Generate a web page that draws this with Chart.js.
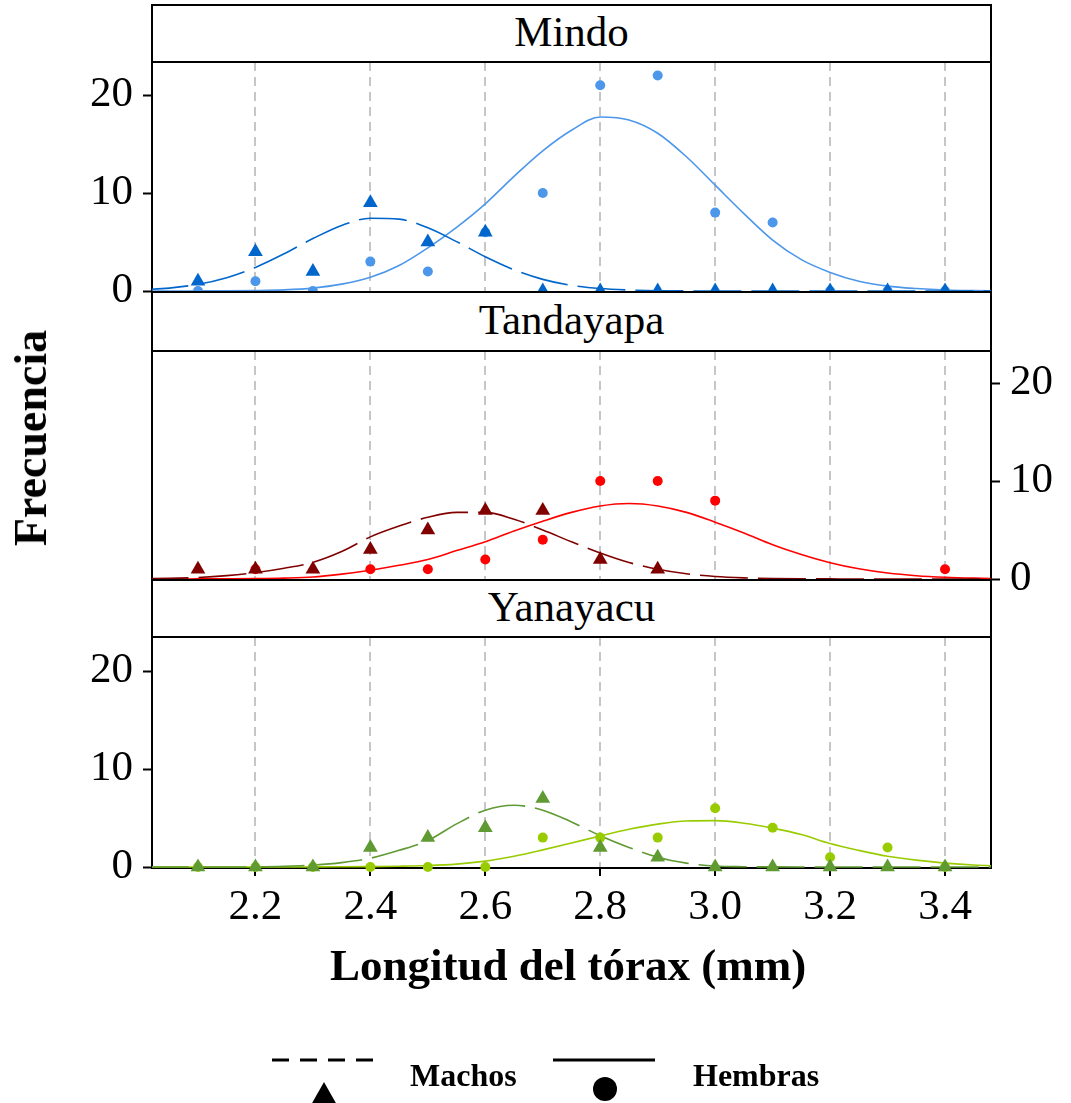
<!DOCTYPE html>
<html>
<head>
<meta charset="utf-8">
<script src="https://cdn.jsdelivr.net/npm/chart.js@4"></script>
<style>
  body { margin: 0; background: #fff; width: 1071px; height: 1103px; position: relative; overflow: hidden;
         font-family: "Liberation Serif", "Times New Roman", serif; color: #000; }
  canvas { position: absolute; left: 0; top: 0; }
  .strip { position: absolute; left: 151px; width: 841px; box-sizing: border-box; border: 2px solid #000;
           background: #fff; text-align: center; font-size: 43px; }
  .lbl { position: absolute; white-space: nowrap; font-weight: bold; }
</style>
</head>
<body>
<canvas id="mindo" width="1071" height="1103"></canvas>
<canvas id="tanda" width="1071" height="1103"></canvas>
<canvas id="yana" width="1071" height="1103"></canvas>

<div class="strip" style="top:4px;height:59px;line-height:52px">Mindo</div>
<div class="strip" style="top:291px;height:61px;line-height:54px">Tandayapa</div>
<div class="strip" style="top:579px;height:59px;line-height:52px">Yanayacu</div>

<div class="lbl" style="left:68px;width:1000px;text-align:center;top:940px;font-size:45px;line-height:50px">Longitud del tórax (mm)</div>
<div class="lbl" style="left:31px;top:438px;font-size:46px;line-height:46px;transform:translate(-50%,-50%) rotate(-90deg)">Frecuencia</div>

<svg style="position:absolute;left:0;top:1030px" width="1071" height="73">
  <line x1="272" y1="30" x2="373" y2="30" stroke="#000" stroke-width="3" stroke-dasharray="17 11"/>
  <polygon points="324,52 311,75 337,75" fill="#000"/>
  <line x1="553" y1="30" x2="655" y2="30" stroke="#000" stroke-width="3"/>
  <circle cx="605" cy="59" r="12" fill="#000"/>
</svg>
<div class="lbl" style="left:410px;top:1059px;font-size:32px;line-height:32px">Machos</div>
<div class="lbl" style="left:693px;top:1059px;font-size:32px;line-height:32px">Hembras</div>

<script>
// observed counts per thorax length class
const xPts = [2.1, 2.2, 2.3, 2.4, 2.5, 2.6, 2.7, 2.8, 2.9, 3.0, 3.1, 3.2, 3.3, 3.4];
const mindoMachos  = [1, 4, 2, 9, 5, 6, 0, 0, 0, 0, 0, 0, 0, 0];
const mindoHembras = [0, 1, 0, 3, 2, 6, 10, 21, 22, 8, 7, 0, 0, 0];
const tandaMachos  = [1, 1, 1, 3, 5, 7, 7, 2, 1, null, null, null, null, null];
const tandaHembras = [null, 1, null, 1, 1, 2, 4, 10, 10, 8, null, null, null, 1];
const yanaMachos   = [0, 0, 0, 2, 3, 4, 7, 2, 1, 0, 0, 0, 0, 0];
const yanaHembras  = [0, 0, 0, 0, 0, 0, 3, 3, 3, 6, 4, 1, 2, 0];

// fitted curves, every 0.05 mm
const xFit = [2.00, 2.05, 2.10, 2.15, 2.20, 2.25, 2.30, 2.35, 2.40, 2.45, 2.50, 2.55, 2.60, 2.65, 2.70, 2.75,
              2.80, 2.85, 2.90, 2.95, 3.00, 3.05, 3.10, 3.15, 3.20, 3.25, 3.30, 3.35, 3.40, 3.45, 3.50];
const mindoMachosFit  = [0.12, 0.3, 0.68, 1.36, 2.41, 3.8, 5.35, 6.69, 7.43, 7.34, 6.45, 5.04, 3.5, 2.17, 1.19, 0.58,
                         0.25, 0.1, 0.03, 0.01, 0, 0, 0, 0, 0, 0, 0, 0, 0, 0, 0];
const mindoHembrasFit = [0, 0, 0.01, 0.02, 0.05, 0.12, 0.3, 0.7, 1.4, 2.6, 4.4, 6.5, 8.9, 11.7, 14.3, 16.4,
                         17.75, 17.45, 16.1, 13.7, 10.8, 7.9, 5.2, 3.2, 1.9, 1.0, 0.5, 0.25, 0.1, 0.04, 0.01];
const tandaMachosFit  = [0.03, 0.07, 0.16, 0.35, 0.65, 1.1, 1.7, 2.8, 4.3, 5.4, 6.3, 6.8, 6.8, 6.1, 5.0, 3.8,
                         2.66, 1.69, 0.99, 0.53, 0.26, 0.12, 0.05, 0.02, 0.01, 0, 0, 0, 0, 0, 0];
const tandaHembrasFit = [0, 0, 0.01, 0.02, 0.04, 0.09, 0.2, 0.5, 0.9, 1.4, 2.0, 2.9, 3.8, 4.9, 5.9, 6.8,
                         7.45, 7.7, 7.45, 6.8, 5.8, 4.7, 3.5, 2.5, 1.66, 1.04, 0.61, 0.34, 0.18, 0.09, 0.04];
const yanaMachosFit   = [0, 0, 0, 0, 0.02, 0.08, 0.2, 0.45, 0.9, 1.7, 2.7, 4.4, 5.8, 6.3, 5.8, 4.6,
                         3.2, 2.0, 1.0, 0.4, 0.1, 0.03, 0.01, 0, 0, 0, 0, 0, 0, 0, 0];
const yanaHembrasFit  = [0, 0, 0, 0, 0, 0, 0.01, 0.02, 0.04, 0.08, 0.15, 0.3, 0.6, 1.1, 1.75, 2.45,
                         3.17, 3.85, 4.38, 4.7, 4.73, 4.47, 3.97, 3.31, 2.4, 1.7, 1.1, 0.7, 0.4, 0.2, 0.1];

const xTicks = [2.2, 2.4, 2.6, 2.8, 3.0, 3.2, 3.4];
const yTicks = [0, 10, 20];

const SERIF = '"Liberation Serif", "Times New Roman", serif';
const X_AXIS_H = 80;

function toXY(xs, ys) {
    return xs.map((x, i) => ({ x, y: ys[i] })).filter(p => p.y !== null);
}

// black box round each plot area
const framePlugin = {
    id: 'frame',
    beforeDatasetsDraw(chart) {
        const { ctx, chartArea: a } = chart;
        ctx.save();
        ctx.strokeStyle = '#000';
        ctx.lineWidth = 2;
        ctx.strokeRect(a.left, a.top, a.right - a.left, a.bottom - a.top);
        ctx.restore();
    }
};

function makePanel(id, o) {
    const axisH = o.xLabels ? X_AXIS_H : 0;
    return new Chart(document.getElementById(id), {
        type: 'scatter',
        data: {
            datasets: [
                { data: toXY(xPts, o.machos), pointStyle: 'triangle', pointRadius: 8.5, borderWidth: 0,
                  backgroundColor: o.cM, clip: false, order: 1 },
                { data: toXY(xPts, o.hembras), pointStyle: 'circle', pointRadius: 5, borderWidth: 0,
                  backgroundColor: o.cH, clip: false, order: 2 },
                { data: toXY(xFit, o.machosFit), showLine: true, pointRadius: 0, borderColor: o.cM,
                  borderWidth: 1.6, borderDash: [48, 10], cubicInterpolationMode: 'monotone', order: 3 },
                { data: toXY(xFit, o.hembrasFit), showLine: true, pointRadius: 0, borderColor: o.cH,
                  borderWidth: 1.6, cubicInterpolationMode: 'monotone', order: 4 }
            ]
        },
        options: {
            responsive: false,
            animation: false,
            events: [],
            layout: {
                padding: { top: o.top, bottom: 1103 - o.bottom - axisH,
                           left: o.yRight ? 152 : 0, right: o.yRight ? 0 : 80 }
            },
            plugins: { legend: { display: false }, tooltip: { enabled: false } },
            scales: {
                x: {
                    type: 'linear', min: 2.02, max: 3.48,
                    afterBuildTicks: s => { s.ticks = xTicks.map(v => ({ value: v })); },
                    afterFit: s => { s.height = axisH; },
                    grid: { color: '#c6c6c6', lineWidth: 2, drawTicks: o.xLabels, tickLength: 8,
                            tickColor: '#000', tickWidth: 2, tickBorderDash: [] },
                    border: { display: false, dash: [9, 6] },
                    ticks: { display: o.xLabels, padding: 6, color: '#000', maxRotation: 0, autoSkip: false,
                             font: { family: SERIF, size: 43 }, callback: v => v.toFixed(1) }
                },
                y: {
                    position: o.yRight ? 'right' : 'left',
                    min: -0.1, max: o.ymax,
                    afterBuildTicks: s => { s.ticks = yTicks.map(v => ({ value: v })); },
                    afterFit: s => { s.width = o.yRight ? 80 : 152; },
                    grid: { drawOnChartArea: false, tickLength: 9, tickColor: '#000', tickWidth: 2 },
                    border: { display: false },
                    ticks: { padding: 10, color: '#000', font: { family: SERIF, size: 43 },
                             callback: v => String(v) }
                }
            }
        },
        plugins: [framePlugin]
    });
}

makePanel('mindo', { top: 62, bottom: 292, ymax: 23.37, yRight: false, xLabels: false,
    machos: mindoMachos, hembras: mindoHembras, machosFit: mindoMachosFit, hembrasFit: mindoHembrasFit,
    cM: '#0066CC', cH: '#4C97EA' });
makePanel('tanda', { top: 351, bottom: 580, ymax: 23.27, yRight: true, xLabels: false,
    machos: tandaMachos, hembras: tandaHembras, machosFit: tandaMachosFit, hembrasFit: tandaHembrasFit,
    cM: '#800000', cH: '#FF0000' });
makePanel('yana', { top: 637, bottom: 868, ymax: 23.47, yRight: false, xLabels: true,
    machos: yanaMachos, hembras: yanaHembras, machosFit: yanaMachosFit, hembrasFit: yanaHembrasFit,
    cM: '#5F9A32', cH: '#99CC00' });
</script>
</body>
</html>
